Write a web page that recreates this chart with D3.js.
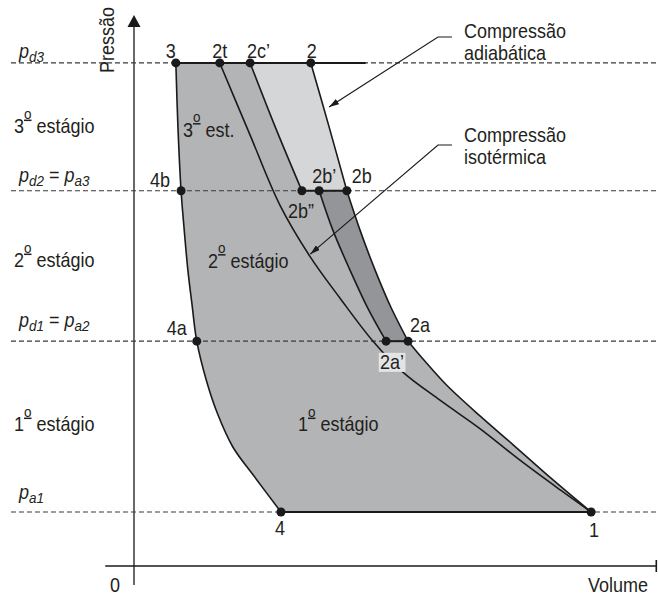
<!DOCTYPE html>
<html><head><meta charset="utf-8">
<script src="https://cdn.jsdelivr.net/npm/d3@7"></script>
<style>
body{margin:0;background:#fff}
svg{display:block}
text{font-family:"Liberation Sans",Arial,Helvetica,sans-serif;fill:#231f20;font-size:20px}
</style>
</head><body>
<svg id="chart" width="658" height="595"></svg>
<script>
// ---------------- DATA (volume V, pressure P in arbitrary units) ----------------
const levelNames  = ["p_a1", "p_d1 = p_a2", "p_d2 = p_a3", "p_d3"];
const levelValues = [0.98, 4.08, 6.81, 9.13];
const stageNames  = ["1º estágio", "2º estágio", "3º estágio"];

// single-stage adiabatic compression 1 -> 2a -> 2b -> 2
const adiabatLow  = [[8.74,0.98],[7.99,1.58],[7.25,2.20],[6.62,2.72],[5.98,3.28],[5.56,3.72],[5.24,4.08]];
const adiabatMid  = [[5.24,4.08],[4.91,4.70],[4.61,5.37],[4.32,6.10],[4.07,6.81]];
const adiabatHigh = [[4.07,6.81],[3.73,7.97],[3.38,9.13]];
// isothermal compression 1 -> 2t
const isotherm    = [[8.74,0.98],[8.15,1.38],[7.38,1.92],[6.62,2.49],[5.85,3.01],[5.14,3.52],[4.57,4.08],[3.94,4.86],[3.37,5.61],[2.79,6.55],[2.22,7.82],[1.64,9.13]];
// staged compressions
const stage2      = [[4.82,4.08],[4.46,4.70],[4.13,5.37],[3.80,6.10],[3.54,6.81]];   // 2a' -> 2b'
const stage3      = [[3.21,6.81],[2.70,7.97],[2.22,9.13]];                           // 2b" -> 2c'
// clearance re-expansion 3 -> 4b -> 4a -> 4
const clearance   = [[0.80,9.13],[0.84,7.97],[0.90,6.81],[0.96,6.10],[1.03,5.37],[1.11,4.74],[1.20,4.08],[1.38,3.38],[1.59,2.78],[1.89,2.16],[2.28,1.65],[2.81,0.98]];

// state points
const pointNames = ["1","2","2t","2c’","3","4b","2b”","2b’","2b","4a","2a’","2a","4"];
const pointV     = [8.74,3.38,1.64,2.22,0.80,0.90,3.21,3.54,4.07,1.20,4.82,5.24,2.81];
const pointP     = [0.98,9.13,9.13,9.13,9.13,6.81,6.81,6.81,6.81,4.08,4.08,4.08,0.98];

// annotations
const noteTexts   = [["Compressão","adiabática"],["Compressão","isotérmica"]];
const noteTargetV = [3.73, 3.37];
const noteTargetP = [8.33, 5.66];

const regionLabels = ["3º est.", "2º estágio", "1º estágio"];

// ---------------- SCALES ----------------
const svg = d3.select("#chart");
const x = d3.scaleLinear().domain([0,10]).range([134,657]);
const y = d3.scaleLinear().domain([0,10]).range([566,15]);

const line = d3.line().x(d=>x(d[0])).y(d=>y(d[1])).curve(d3.curveCatmullRom.alpha(0.5));
const rev = a => a.slice().reverse();
const join = segs => segs.map((s,i)=> i ? line(s).replace(/^M/,"L") : line(s)).join("") + "Z";

const C_MAIN = "#b3b4b6", C_DARK = "#939598", C_LIGHT = "#d5d6d8", INK = "#1a1a1a";
const SX = 0.9; // condensed look of the original lettering

function txt(px, py, anchor, extra){
  return svg.append("text")
    .attr("transform", `translate(${px},${py})${extra||""} scale(${SX},1)`)
    .attr("text-anchor", anchor || "start")
    .attr("xml:space","preserve");
}

// ---------------- FILLS ----------------
svg.append("path").attr("d", join([clearance, adiabatLow, stage2, stage3])).attr("fill", C_MAIN);
svg.append("path").attr("d", join([adiabatMid, rev(stage2)])).attr("fill", C_DARK);
svg.append("path").attr("d", join([adiabatHigh, rev(stage3)])).attr("fill", C_LIGHT);

// ---------------- AXES ----------------
svg.append("line").attr("x1", x(0)).attr("x2", x(0)).attr("y1", y(-0.345)).attr("y2", y(9.8))
  .attr("stroke", INK).attr("stroke-width", 1.3);
svg.append("path").attr("d", `M${x(0)},${y(10)}L${x(0)-6.5},${y(9.78)}L${x(0)+6.5},${y(9.78)}Z`).attr("fill", INK);
svg.append("line").attr("x1", x(-0.55)).attr("x2", x(10)).attr("y1", y(0)).attr("y2", y(0))
  .attr("stroke", INK).attr("stroke-width", 1.3);
svg.append("line").attr("x1", x(10)-0.7).attr("x2", x(10)-0.7).attr("y1", y(0)-6).attr("y2", y(0)+6)
  .attr("stroke", INK).attr("stroke-width", 1.6);
txt(115, 592, "middle").text("0");
txt(648, 592, "end").text("Volume");
txt(114, 73, "start", " rotate(-90)").text("Pressão");

// ---------------- DASHED PRESSURE LEVELS ----------------
svg.selectAll("line.lvl").data(levelValues).join("line").attr("class","lvl")
  .attr("x1", 11).attr("x2", 658).attr("y1", d=>y(d)).attr("y2", d=>y(d))
  .attr("stroke", "#3a3a3a").attr("stroke-width", 1.2).attr("stroke-dasharray", "5,3");

// ---------------- CURVES ----------------
[clearance, adiabatLow, adiabatMid, adiabatHigh, isotherm, stage2, stage3].forEach(c=>{
  svg.append("path").attr("d", line(c)).attr("fill","none").attr("stroke", INK).attr("stroke-width", 1.6);
});
// solid horizontal lines (intake / delivery / intercooling)
const P = n => pointP[pointNames.indexOf(n)], V = n => pointV[pointNames.indexOf(n)];
[["3","2",1.05],["2b”","2b",0],["2a’","2a",0],["4","1",0]].forEach(([a,b,ext])=>{
  svg.append("line").attr("x1", x(V(a))).attr("x2", x(V(b)+ext)).attr("y1", y(P(a))).attr("y2", y(P(b)))
    .attr("stroke", INK).attr("stroke-width", 2);
});

// ---------------- ANNOTATION LEADERS ----------------
const defs = svg.append("defs");
defs.append("marker").attr("id","arr").attr("viewBox","0 0 10 6").attr("refX",10).attr("refY",3)
  .attr("markerWidth",10).attr("markerHeight",6).attr("markerUnits","userSpaceOnUse").attr("orient","auto")
  .append("path").attr("d","M0,0L10,3L0,6Z").attr("fill", INK);
const noteLayout = [{ty:37.5, ly:37}, {ty:142, ly:145}];
noteTexts.forEach((lines,i)=>{
  const L = noteLayout[i];
  svg.append("path").attr("d", `M452,${L.ly}L438,${L.ly}L${x(noteTargetV[i])},${y(noteTargetP[i])}`)
    .attr("fill","none").attr("stroke", INK).attr("stroke-width",1.2).attr("marker-end","url(#arr)");
  const t = txt(464, L.ty);
  lines.forEach((s,j)=> t.append("tspan").attr("x",0).attr("dy", j? 22.5 : 0).text(s));
});

// ---------------- POINTS ----------------
svg.selectAll("circle.pt").data(pointNames).join("circle").attr("class","pt")
  .attr("cx", (d,i)=>x(pointV[i])).attr("cy",(d,i)=>y(pointP[i])).attr("r",4.5).attr("fill", INK);

const labelLayout = {
  "1":["middle",3,25], "2":["middle",1,-5], "2t":["middle",0,-5], "2c’":["start",-3,-5],
  "3":["middle",-5,-5], "4b":["middle",-21,-4], "2b”":["start",-14,27], "2b’":["start",-7,-8],
  "2b":["start",5,-8], "4a":["start",-30,-6], "2a’":["start",-6,28], "2a":["start",2,-9], "4":["middle",-1,23]
};
pointNames.forEach((n,i)=>{
  const [anc,dx,dy] = labelLayout[n];
  const px = x(pointV[i])+dx, py = y(pointP[i])+dy;
  const t = txt(px, py, anc).text(n);
  if (n === "2a’") {
    const b = t.node().getBBox();
    svg.insert("rect", function(){ return t.node(); })
      .attr("transform", t.attr("transform"))
      .attr("x", b.x-1.5).attr("y", b.y+1.5).attr("width", b.width+3).attr("height", b.height-3)
      .attr("fill", "#e3e4e5");
  }
});

// ---------------- TEXT LABELS ----------------
function ordinal(sel, str){
  const [a,b] = str.split("º");
  sel.append("tspan").text(a);
  sel.append("tspan").attr("font-size",15).attr("dy",-14.5).attr("text-decoration","underline").text("o");
  sel.append("tspan").attr("dy",14.5).text(b);
}
function pressureLabel(sel, str){
  let pending = 0;
  str.split(/(p_[a-z]\d)/).filter(s=>s.length).forEach(s=>{
    if (s.startsWith("p_")) {
      sel.append("tspan").attr("font-style","italic").attr("dy", pending).text("p");
      sel.append("tspan").attr("font-style","italic").attr("font-size",15).attr("dy",4).text(s.slice(2));
      pending = -4;
    } else {
      sel.append("tspan").attr("dy", pending).text(s);
      pending = 0;
    }
  });
}
const levelDy = [-13, -14.5, -9, -5];
levelNames.forEach((n,i)=>{
  pressureLabel(txt(19, y(levelValues[i])+levelDy[i]), n);
});
const stageBaselines = [431, 267, 133];
stageNames.forEach((n,i)=>{
  ordinal(txt(14, stageBaselines[i]), n);
});
const regionPos = [[183,136.5],[208,267.5],[298,431]];
regionLabels.forEach((n,i)=>{
  ordinal(txt(regionPos[i][0], regionPos[i][1]), n);
});
</script>
</body></html>
